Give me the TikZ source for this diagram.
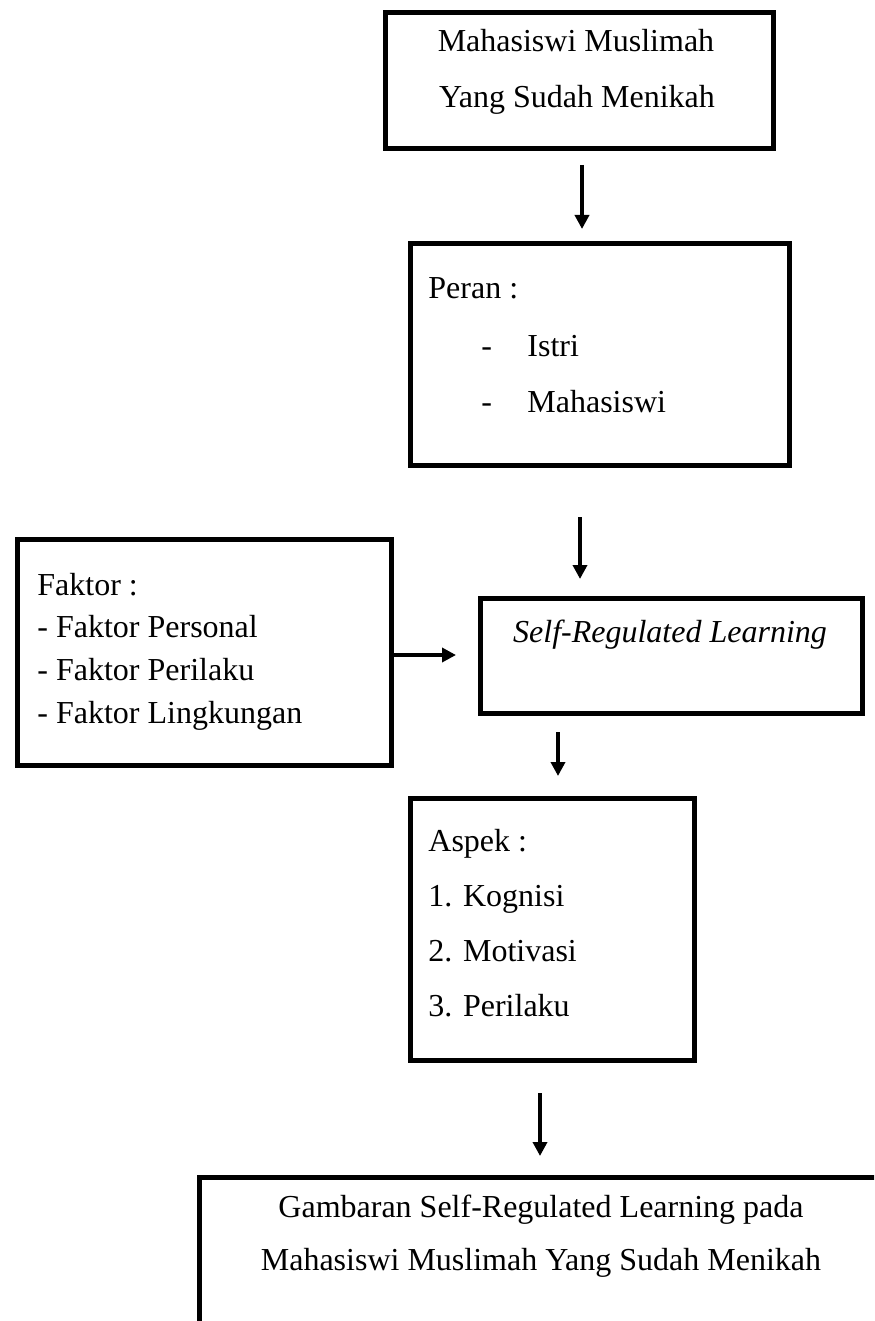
\documentclass[tikz,border=0pt]{standalone}
\usepackage{fontspec}
\setmainfont{Liberation Serif}
\usetikzlibrary{arrows.meta}
\begin{document}
\begin{tikzpicture}[x=0.5pt,y=-0.5pt,
  boxnode/.style={draw=black,line width=2.5pt,rectangle,anchor=north west,inner sep=0pt},
  txt/.style={font=\fontsize{16}{19}\selectfont,inner sep=0pt},
  arr/.style={line width=2pt,-{Triangle[width=7pt,length=7pt]}}]
\useasboundingbox (0,0) rectangle (874,1321);
\clip (0,0) rectangle (874,1321);
% boxes
\node[boxnode,minimum width=194pt,minimum height=68pt] (box1) at (383,10) {};
\node[boxnode,minimum width=189.5pt,minimum height=111pt] (box2) at (408,241) {};
\node[boxnode,minimum width=187pt,minimum height=113pt] (faktor) at (15,537) {};
\node[boxnode,minimum width=191pt,minimum height=57.5pt] (srl) at (478,596) {};
\node[boxnode,minimum width=142pt,minimum height=131pt] (aspek) at (408,796) {};
\node[boxnode,minimum width=344pt,minimum height=90pt] (final) at (197,1175) {};
% texts
\node[txt,anchor=base] (t1a) at (576,52) {Mahasiswi Muslimah};
\node[txt,anchor=base] (t1b) at (577,108) {Yang Sudah Menikah};
\node[txt,anchor=base west] (t2a) at (428,298) {Peran :};
\node[txt,anchor=base west] (t2b) at (481,356) {-};
\node[txt,anchor=base west] (t2c) at (527,356) {Istri};
\node[txt,anchor=base west] (t2d) at (481,412) {-};
\node[txt,anchor=base west] (t2e) at (527,412) {Mahasiswi};
\node[txt,anchor=base west] (t3a) at (37,595) {Faktor :};
\node[txt,anchor=base west] (t3b) at (37,637) {- Faktor Personal};
\node[txt,anchor=base west] (t3c) at (37,680) {- Faktor Perilaku};
\node[txt,anchor=base west] (t3d) at (37,723) {- Faktor Lingkungan};
\node[txt,anchor=base] (t4) at (670,642) {\itshape Self-Regulated Learning};
\node[txt,anchor=base west] (t5a) at (428,851) {Aspek :};
\node[txt,anchor=base west] (t5b) at (428,906) {1. Kognisi};
\node[txt,anchor=base west] (t5c) at (428,961) {2. Motivasi};
\node[txt,anchor=base west] (t5d) at (428,1016) {3. Perilaku};
\node[txt,anchor=base] (t6a) at (541,1217) {Gambaran Self-Regulated Learning pada};
\node[txt,anchor=base] (t6b) at (541,1270) {Mahasiswi Muslimah Yang Sudah Menikah};
% arrow end points
\coordinate (a1s) at (582,165); \coordinate (a1e) at (582,229);
\coordinate (a2s) at (580,517); \coordinate (a2e) at (580,579);
\coordinate (a3s) at (389,655); \coordinate (a3e) at (456,655);
\coordinate (a4s) at (558,732); \coordinate (a4e) at (558,776);
\coordinate (a5s) at (540,1093); \coordinate (a5e) at (540,1156);
\draw[arr] (a1s) -- (a1e);
\draw[arr] (a2s) -- (a2e);
\draw[arr] (a3s) -- (a3e);
\draw[arr] (a4s) -- (a4e);
\draw[arr] (a5s) -- (a5e);
\end{tikzpicture}
\end{document}
